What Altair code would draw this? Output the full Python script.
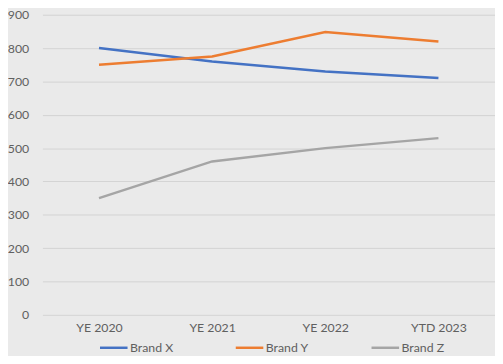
import altair as alt
import pandas as pd

periods = ["YE 2020", "YE 2021", "YE 2022", "YTD 2023"]
brands = ["Brand X", "Brand Y", "Brand Z"]
brand_x = [800, 760, 730, 710]
brand_y = [750, 775, 848, 820]
brand_z = [350, 460, 500, 530]
colors = ["#4472c4", "#ed7d31", "#a5a5a5"]

rows = []
for b, vals in zip(brands, [brand_x, brand_y, brand_z]):
    for p, v in zip(periods, vals):
        rows.append({"period": p, "brand": b, "value": v})
df = pd.DataFrame(rows)

FONT = "Lato"
TXT = "#606060"

chart = alt.Chart(df).mark_line(strokeWidth=2.5).encode(
    x=alt.X("period:N", sort=periods, title=None,
            scale=alt.Scale(type="point", padding=0.5),
            axis=alt.Axis(labelAngle=0, domain=False, ticks=False, tickSize=0,
                          grid=False, labelPadding=7, labelFontSize=12.5,
                          labelColor=TXT, labelFont=FONT)),
    y=alt.Y("value:Q", title=None,
            scale=alt.Scale(domain=[0, 900]),
            axis=alt.Axis(values=list(range(0, 1000, 100)), domain=False, ticks=False,
                          tickSize=0, labelPadding=14, labelFontSize=12.5,
                          labelColor=TXT, labelFont=FONT, gridColor="#d3d3d3",
                          gridWidth=1)),
    color=alt.Color("brand:N", sort=brands,
                    scale=alt.Scale(domain=brands, range=colors),
                    legend=alt.Legend(orient="none", legendX=57, legendY=323,
                                      title=None, direction="horizontal",
                                      symbolType="stroke", symbolSize=784,
                                      symbolStrokeWidth=2.5, labelOffset=1,
                                      columnPadding=58, labelFontSize=12.5,
                                      labelColor=TXT, labelFont=FONT,
                                      padding=0)),
).properties(
    width=460, height=305,
    autosize=alt.AutoSizeParams(type="none"),
    padding={"left": 35, "top": 4, "right": 0, "bottom": 39},
    background="#eaeaea",
).configure_view(stroke=None)

chart.save("out.html", embed_options={"renderer": "svg", "actions": False})
